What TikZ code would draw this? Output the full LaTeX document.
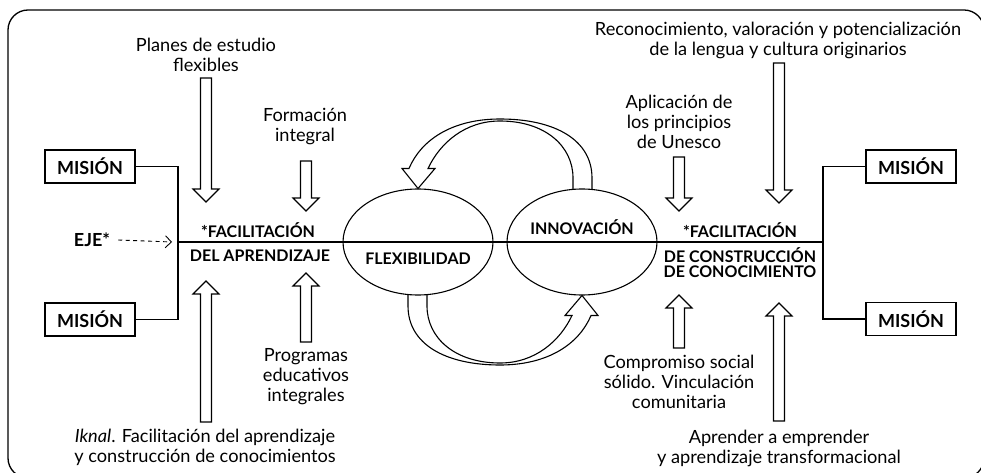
\documentclass[tikz,border=0pt]{standalone}
\usepackage{fontspec}
\setmainfont{Lato}
\usetikzlibrary{shapes.geometric,arrows.meta,calc}

\tikzset{
  txt/.style={align=center,inner sep=0pt,font=\fontsize{18.2}{20}\selectfont},
  caps/.style={align=center,inner sep=0pt,font=\fontsize{16}{16}\selectfont\bfseries},
  misionbox/.style={draw,line width=1.3pt,minimum width=90pt,minimum height=33pt,
    inner sep=0pt,font=\fontsize{18}{18}\selectfont\bfseries},
  oval/.style={draw,ellipse,line width=1.1pt,minimum width=150pt,minimum height=106pt,inner sep=0pt},
  blockarrow/.style={line width=1.1pt,line join=miter,
    to path={let \p1=(\tikztostart),\p2=(\tikztotarget),
      \p3=($(\tikztotarget)!13pt!(\tikztostart)$) in
      (\x1-5.5pt,\y1) -- (\x1-5.5pt,\y3) -- (\x1-13pt,\y3) -- (\p2)
      -- (\x1+13pt,\y3) -- (\x1+5.5pt,\y3) -- (\x1+5.5pt,\y1) -- cycle}},
  hollowcurve/.style={line width=1.1pt,line join=miter}
}

\begin{document}
\begin{tikzpicture}[x=1pt,y=-1pt]
\useasboundingbox (0,0) rectangle (981,473);
\clip (0,0) rectangle (981,473);

% frame
\draw[line width=1.3pt,rounded corners=20pt] (8,10) rectangle (984,478);

% axis
\coordinate (lj) at (178,242);
\coordinate (rj) at (823,242);
\draw[line width=1.1pt] (lj) -- (rj);

% mision boxes
\node[misionbox] (m1) at (90,166.5) {MISIÓN};
\node[misionbox] (m2) at (90,319.5) {MISIÓN};
\node[misionbox] (m3) at (911,166.5) {MISIÓN};
\node[misionbox] (m4) at (911,319) {MISIÓN};
\draw[line width=1.1pt] (m1.east) -| (lj) |- (m2.east);
\draw[line width=1.1pt] (m3.west) -| (rj) |- (m4.west);

% eje
\node[caps,font=\fontsize{18}{18}\selectfont\bfseries] (eje) at (92,240) {EJE*};
\draw[line width=0.9pt,dash pattern=on 4pt off 3.5pt,
  -{Straight Barb[length=6pt,width=12pt,line width=0.9pt]}]
  ([xshift=8pt]eje.east) -- ([xshift=-6pt]lj);

% ellipses
\node[oval] (flex) at (418,242) {};
\node[oval] (inno) at (582,242) {};
\node[caps] (flextxt) at (418,259) {FLEXIBILIDAD};
\node[caps] (innotxt) at (582,227) {INNOVACIÓN};

% curved hollow arrows
\draw[hollowcurve] (592,189.5) -- (592,178) .. controls (592,140) and (555,119) .. (500,119)
  .. controls (452,119) and (421,140) .. (409,168.5) -- (402,168.5) -- (418,188.5)
  -- (435,168.5) -- (428,168.5) .. controls (440,143) and (465,121) .. (500,121)
  .. controls (545,121) and (573,146) .. (573,178) -- (573,189.5);
\draw[hollowcurve,rotate around={180:(500,242)}] (592,189.5) -- (592,178)
  .. controls (592,140) and (555,119) .. (500,119)
  .. controls (452,119) and (421,140) .. (409,168.5) -- (402,168.5) -- (418,188.5)
  -- (435,168.5) -- (428,168.5) .. controls (440,143) and (465,121) .. (500,121)
  .. controls (545,121) and (573,146) .. (573,178) -- (573,189.5);

% axis labels
\node[caps] (facl) at (258,230) {*FACILITACIÓN};
\node[caps] (dela) at (260,256) {DEL APRENDIZAJE};
\node[caps] (facr) at (740,230) {*FACILITACIÓN};
\node[caps,text depth=0pt] (decon) at (740,263) {DE CONSTRUCCIÓN\\[-1pt]DE CONOCIMIENTO};

% surrounding texts
\node[txt] (planes) at (206,55) {Planes de estudio\\flexibles};
\node[txt] (formacion) at (305,127) {Formación\\integral};
\node[txt] (reconoc) at (778,40) {Reconocimiento, valoración y potencialización\\de la lengua y cultura originarios};
\node[txt] (aplic) at (679,121.5) {Aplicación de\\los principios\\de Unesco};
\node[txt] (programas) at (306,377) {Programas\\educativos\\integrales};
\node[txt] (compromiso) at (679,382) {Compromiso social\\sólido. Vinculación\\comunitaria};
\node[txt] (iknal) at (205,447) {\textit{Iknal}. Facilitación del aprendizaje\\y construcción de conocimientos};
\node[txt] (aprender) at (779,448) {Aprender a emprender\\y aprendizaje transformacional};

% block arrows
\foreach \nm/\x/\ys/\ye in {pl/206/78/202, fo/306/161/211, ik/206/422/281, pr/306/342/273,
    ap/679/157/211, re/779/63/203, co/679/348/295, em/779/421/303} {
  \coordinate (\nm-tail) at (\x,\ys);
  \coordinate (\nm-tip) at (\x,\ye);
  \draw[blockarrow] (\nm-tail) to (\nm-tip);
}
\end{tikzpicture}
\end{document}
